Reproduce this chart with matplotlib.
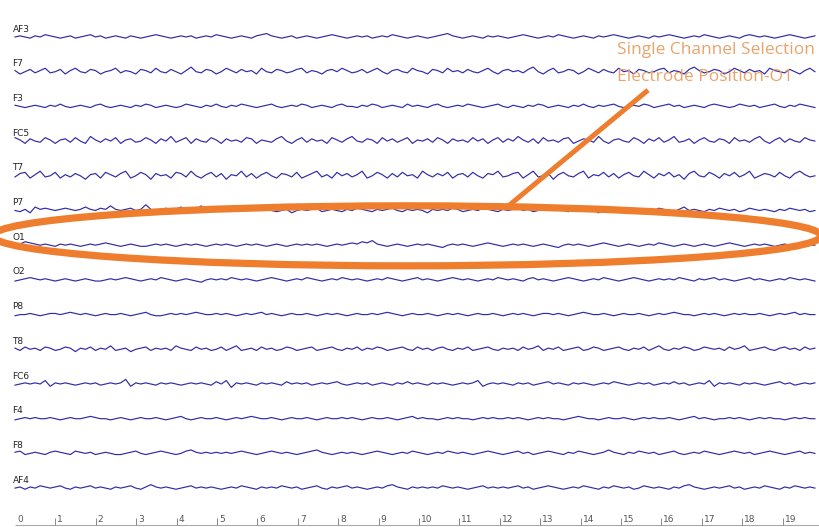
#!/usr/bin/env python3
"""Multi-channel EEG trace with the O1 channel circled."""

import matplotlib
matplotlib.use("Agg")
import matplotlib.pyplot as plt
import numpy as np
from matplotlib.patches import Ellipse

CHANNELS = ["AF3", "F7", "F3", "FC5", "T7", "P7", "O1",
            "O2", "P8", "T8", "FC6", "F4", "F8", "AF4"]
DURATION = 19.8
TICKS = list(range(20))

# trace deviations, roughly in screen pixels (up = positive)
AF3 = [0,1,0,-1,1,0,2,1,0,-1, 0,1,-1,0,1,2,0,1,-1,0, 1,0,-1,1,0,-1,0,1,2,1, 0,-1,0,1,0,1,-1,0,1,0,
       2,1,0,-1,0,1,0,-1,1,2, 3,1,0,-1,0,1,-1,0,1,0, -1,0,1,2,1,0,-1,0,1,0, 1,-1,0,1,0,2,1,0,-1,0,
       1,0,-1,0,1,2,3,1,0,-1, 0,1,0,-1,1,0,1,0,-1,0, 1,2,1,0,-1,0,1,0,2,1, 0,-1,0,1,0,-1,1,0,1,2,
       1,0,-1,0,1,0,-1,1,0,1, 2,1,0,-1,0,1,0,2,1,0, -1,0,1,0,-1,1,2,1,0,1, 0,-1,0,1,2,1,0,-1,0,1]
F7 = [1,-2,0,2,-1,1,3,-1,0,2, -2,1,3,0,-1,2,1,-2,0,1, 3,-1,1,0,-2,2,1,-1,3,0, -1,2,0,-2,1,4,0,-1,2,1,
      -2,0,3,1,-1,2,0,1,-2,3, 0,-1,2,1,-1,0,2,3,-1,1, 0,-2,1,2,0,3,1,-1,0,2, -1,1,3,0,-2,1,2,0,-1,3,
      1,0,-2,2,1,-1,3,0,1,-1, 2,0,-1,1,3,0,-2,1,2,0, 1,-1,2,4,0,-2,1,3,-1,0, 2,1,-2,0,3,1,-1,2,0,-1,
      3,0,1,-2,2,1,-1,0,2,3, -1,1,0,-2,2,4,1,-1,0,2, 1,-2,0,3,1,-1,2,0,1,-2, 3,1,0,-1,2,0,-2,1,3,0]
F3 = [1,0,-1,0,1,0,-1,1,0,2, 0,-1,0,1,0,-1,1,2,0,-1, 0,1,0,-1,1,0,2,1,-1,0, 1,0,-1,0,2,1,0,-1,1,0,
      2,0,-1,1,0,2,1,0,-1,0, 1,2,0,-1,0,1,0,2,1,-1, 0,1,0,-1,1,2,0,0,-1,1, 0,2,1,-1,0,1,0,-1,2,0,
      1,0,-1,1,2,0,-1,0,1,0, 2,1,0,-1,0,1,2,0,-1,1, 0,-1,1,0,2,1,-1,0,1,0, -1,1,0,2,0,-1,1,0,1,2,
      0,-1,0,1,0,2,1,-1,0,1, 2,0,1,-1,0,1,0,-1,1,2, 1,0,-1,0,2,1,0,1,-1,0, 1,2,0,-1,1,0,2,1,0,-1]
FC5 = [3,1,-2,2,0,-1,3,1,-2,1, 2,-1,3,0,-2,4,1,-1,2,0, 3,-2,1,2,-1,0,3,1,-2,2, 0,4,-1,1,3,-2,2,0,-1,3,
       1,-2,2,0,1,-1,3,2,-2,1, 0,-1,2,4,0,-2,1,3,-1,2, 0,1,-2,3,1,-1,2,4,0,-1, 2,1,-2,3,0,2,-1,1,3,-2,
       1,0,2,-1,3,1,-2,2,0,1, -1,3,0,2,-2,1,3,-1,2,0, 4,1,-1,2,-2,3,0,1,-1,2, 3,-2,0,2,1,-1,4,0,-2,1,
       2,0,-1,3,1,-2,2,0,3,-1, 1,4,-1,0,2,-2,1,3,0,-1, 2,1,-2,3,0,1,-1,2,4,0, -2,1,3,-1,2,0,-1,3,1,0]
T7 = [-1,2,3,-2,1,4,-1,0,3,-2, 1,-1,2,0,-3,1,2,-2,3,1, -1,2,4,-2,0,3,1,-3,2,0, 1,-2,3,2,-1,4,0,-2,1,3,
      -1,2,-3,1,0,4,-1,2,-2,1, 3,0,-2,2,1,-1,3,-2,0,2, 4,-1,1,-2,3,0,2,-1,1,4, -2,0,3,1,-2,2,-1,3,0,1,
      -2,4,1,-1,2,0,3,-2,1,2, -1,3,0,-2,2,1,4,-1,0,2, 3,-2,1,4,-1,0,2,-3,1,3, 0,-1,2,4,-2,1,0,3,-1,2,
      -2,1,3,0,-1,4,1,-2,2,0, 3,-1,1,-3,2,4,0,-1,3,1, -2,2,0,3,-1,1,4,-2,0,2, 1,-1,3,0,-2,2,4,1,-1,0]
P7 = [0,-1,1,-2,3,1,2,1,0,1, 2,1,0,1,3,1,0,2,1,4, 1,0,1,2,0,1,5,1,0,1, 2,0,1,3,1,0,1,4,0,1,
      1,0,2,1,0,1,2,0,1,0, 1,0,-1,0,1,-2,0,1,0,1, 2,-1,0,1,0,-1,1,0,2,1, 0,-1,1,0,1,2,0,-1,1,0,
      1,0,-2,1,0,1,0,2,1,-1, 0,1,0,2,1,0,-1,1,0,1, 2,0,1,-1,0,1,3,0,1,0, -1,1,0,2,1,0,-2,0,1,0,
      1,2,0,1,-1,0,1,0,2,1, 0,-1,1,3,0,1,0,-1,1,0, 2,1,0,1,-1,0,2,1,0,1, 0,-1,1,0,2,1,0,1,-1,0]
O1 = [0,1,3,2,1,0,1,0,-1,1, 0,1,0,-1,0,1,0,1,2,1, 0,-1,0,1,0,-1,-1,0,1,0, 1,0,-1,0,1,0,1,0,-1,0,
      1,0,1,0,-1,0,1,0,1,0, -1,0,1,0,-1,0,1,0,1,0, 1,0,-1,0,1,0,1,2,1,3, 2,4,1,0,-1,0,1,0,-1,0,
      1,0,1,0,-1,-2,0,1,0,1, 0,-1,0,1,2,1,0,-1,0,1, 0,1,0,-1,0,1,0,-1,-2,0, 1,0,1,0,-1,0,1,2,1,0,
      -1,0,1,0,-1,0,1,0,2,1, 0,-1,0,1,0,-1,0,1,0,-1, 0,1,2,1,0,-1,0,1,0,1, 0,-1,0,1,0,1,2,1,0,0]
O2 = [-1,0,1,2,1,0,1,0,-1,0, 1,0,-1,0,1,0,-1,-1,0,1, 0,1,2,1,0,-1,0,1,0,2, 1,0,-1,0,1,0,-1,-2,0,1,
      0,1,0,2,1,0,1,0,-1,0, 1,2,1,0,-1,0,1,0,2,1, 0,-1,0,1,0,2,1,0,1,0, -1,0,1,0,2,1,0,-1,0,1,
      2,0,1,0,-1,0,1,2,1,0, 1,0,-1,0,1,0,2,1,0,1, 0,-1,1,2,0,1,0,-1,0,1, 2,1,0,-1,0,1,0,2,1,0,
      -1,0,1,2,1,0,-1,0,1,0, 1,0,2,1,0,-1,1,0,1,2, 0,1,0,-1,0,1,2,0,1,0, -1,0,1,0,2,1,0,1,0,-1]
P8 = [-1,0,0,1,0,-1,0,1,1,0, 1,2,1,0,1,0,-1,0,1,0, 0,1,0,-1,0,1,2,0,-1,-1, 0,1,0,1,0,1,2,1,0,0,
      1,0,1,0,-1,0,1,0,1,2, 0,1,0,-1,0,1,0,0,1,0, -1,0,1,0,1,0,-1,0,1,0, 0,1,0,1,2,1,0,-1,0,1,
      0,0,1,0,-1,0,1,0,1,0, -1,0,1,0,0,1,0,-1,0,1, 0,1,0,-1,0,1,1,0,1,0, -1,0,1,2,1,0,0,1,0,-1,
      0,1,0,0,1,0,-1,0,1,0, 1,2,1,0,0,-1,0,1,0,1, 0,-1,0,1,0,1,0,0,1,0, -1,0,1,0,1,2,0,1,0,0]
T8 = [1,-1,2,0,1,-1,2,1,-1,0, 2,1,-2,1,0,2,-1,1,0,3, -1,0,1,-2,0,1,2,-1,1,0, 1,-1,3,1,0,-1,2,0,1,-1,
      0,2,-1,1,3,-1,0,1,-1,2, 0,1,-1,0,2,1,-1,0,1,2, -1,0,1,2,0,-1,1,0,2,-1, 1,0,2,1,-1,0,1,2,0,-1,
      2,0,1,-1,1,2,0,-1,1,0, 2,-1,0,1,2,0,-1,1,0,1, -1,2,0,1,3,-1,1,0,2,-1, 0,1,2,-1,0,2,1,-1,0,1,
      2,0,-1,1,0,2,-1,1,3,0, -1,1,0,2,1,-1,0,2,1,0, 1,-1,2,0,1,3,-1,0,1,2, 0,-1,1,2,0,1,-1,2,0,1]
FC6 = [-1,0,1,0,1,0,3,-2,1,0, 1,0,-1,0,1,0,1,-1,0,1, 0,1,4,-2,1,0,1,0,-1,1, 0,1,0,-1,0,1,0,1,0,-1,
       2,0,3,-3,1,0,1,0,-1,1, 0,1,0,-1,2,0,1,0,1,-1, 0,1,0,1,2,0,-1,0,1,0, 1,-1,0,1,0,-1,1,0,2,0,
       1,0,-1,1,0,1,0,-1,0,1, 0,1,3,-2,0,1,0,1,0,-1, 1,0,1,-1,0,1,2,0,1,0, -1,1,0,1,0,-1,0,1,0,2,
       1,0,-1,0,1,0,1,-1,0,1, 0,2,0,1,-1,0,1,0,3,-2, 1,0,1,0,-1,1,0,1,0,-1, 0,1,2,0,1,-1,0,1,0,1]
F4 = [-1,0,1,0,1,0,0,1,0,-1, 0,1,0,0,1,2,1,0,0,-1, 0,1,0,-1,0,1,0,0,1,0, -1,0,1,2,0,-1,0,1,0,0,
      1,0,-1,0,1,0,1,2,1,0, 0,1,0,-1,0,1,0,0,1,0, -1,0,1,0,0,1,0,1,0,-1, 0,1,0,0,1,0,-1,0,1,2,
      0,1,0,0,-1,0,1,0,1,0, 0,-1,0,1,0,1,0,0,1,0, 1,0,-1,0,1,0,1,0,0,-1, 0,1,2,1,0,0,-1,0,1,0,
      0,1,0,-1,0,1,0,1,0,0, 1,0,-1,0,1,2,0,1,0,-1, 0,0,1,0,1,0,-1,0,1,0, 1,0,0,-1,0,1,0,1,0,0]
F8 = [1,2,-1,0,1,0,-1,1,2,1, 0,-1,2,1,0,1,-1,0,1,0, -1,-1,0,1,2,0,-1,0,1,2, 1,0,-1,0,2,3,1,0,1,0,
      1,0,1,0,1,2,1,0,-1,0, 1,2,1,0,1,0,-1,0,1,2, 3,1,0,-1,0,1,0,1,0,-1, 0,1,2,1,0,-1,0,1,0,2,
      1,0,-1,0,1,0,2,1,0,1, 0,-1,0,1,2,1,0,-1,0,1, 2,0,1,-1,0,1,2,1,0,-1, 1,0,2,1,0,-1,0,1,3,1,
      0,-1,1,0,2,1,0,1,-1,0, 1,2,0,-1,0,1,0,2,1,0, -1,0,1,2,1,0,1,-1,0,1, 2,1,0,-1,0,1,2,0,1,0]
AF4 = [0,1,-1,1,0,2,1,0,1,2, 0,-1,1,0,1,2,0,1,0,-1, 1,0,1,2,0,-1,1,3,1,0, 1,0,-1,0,1,2,0,1,0,1,
       0,-1,0,1,0,2,1,0,-1,1, 0,1,0,2,1,0,1,-1,0,1, 2,0,-1,1,0,1,2,0,1,0, -1,0,1,0,2,3,1,0,-1,1,
       0,1,0,1,0,2,1,0,1,0, -1,0,1,2,0,1,0,1,0,1, 2,0,1,-1,0,1,2,1,0,-1, 0,1,0,2,1,0,-1,1,0,2,
       1,0,1,-1,0,2,1,0,1,0, -1,1,0,2,3,1,0,-1,0,1, 0,1,2,0,1,-1,0,1,0,2, 1,0,-1,1,0,2,1,0,1,0]

TRACES = [AF3, F7, F3, FC5, T7, P7, O1, O2, P8, T8, FC6, F4, F8, AF4]

TRACE_COLOR = "#2f2aa8"
ORANGE = "#ee7d2e"
TEXT_ORANGE = "#e9a46c"

PX_PER_SEC = 40.4
PX_PER_CH = 34.7
X0_PX, Y0_PX = 15, 37
W_PX, H_PX = 820, 527

fig = plt.figure(figsize=(8.2, 5.27), dpi=100)
ax = fig.add_axes([0, 0, 1, 1])
ax.set_xlim(-X0_PX / PX_PER_SEC, (W_PX - X0_PX) / PX_PER_SEC)
ax.set_ylim((H_PX - Y0_PX) / PX_PER_CH, -Y0_PX / PX_PER_CH)
ax.set_axis_off()

scale = 1.15 / PX_PER_CH
for i, (name, vals) in enumerate(zip(CHANNELS, TRACES)):
    v = np.asarray(vals, dtype=float)
    t = np.linspace(0, DURATION, len(v))
    ax.plot(t, i - v * scale, color=TRACE_COLOR, lw=0.85, zorder=2)
    ax.text(-0.06, i - 0.1, name, fontsize=6.5, color="#222222",
            ha="left", va="bottom", family="DejaVu Sans", zorder=3)

# time axis along the bottom
y_lab = (519 - Y0_PX) / PX_PER_CH
y_line = (525 - Y0_PX) / PX_PER_CH
tick_len = 7 / PX_PER_CH
ax.hlines(y_line, 0, DURATION + 0.3, color="#aaaaaa", lw=0.8)
for k in TICKS:
    if k > 0:
        ax.vlines(k, y_line - tick_len, y_line, color="#888888", lw=0.7)
    ax.text(k + 0.05, y_lab, str(k), fontsize=6.5, color="#555555",
            ha="left", va="center")

# selection ellipse around O1
ax.add_patch(Ellipse((9.7, 5.73), 20.5, 1.73, fill=False,
                     edgecolor=ORANGE, lw=5.2, zorder=4))
ax.plot([12.18, 15.67], [4.90, 1.53], color=ORANGE, lw=3.6,
        solid_capstyle="butt", zorder=4)

ax.text(14.9, 0.37, "Single Channel Selection", color=TEXT_ORANGE,
        fontsize=12.5, family="Open Sans", ha="left", va="center", zorder=5)
ax.text(14.9, 1.15, "Electrode Position-O1", color=TEXT_ORANGE,
        fontsize=12.5, family="Open Sans", ha="left", va="center", zorder=5)

fig.savefig("out.png", dpi=100)
